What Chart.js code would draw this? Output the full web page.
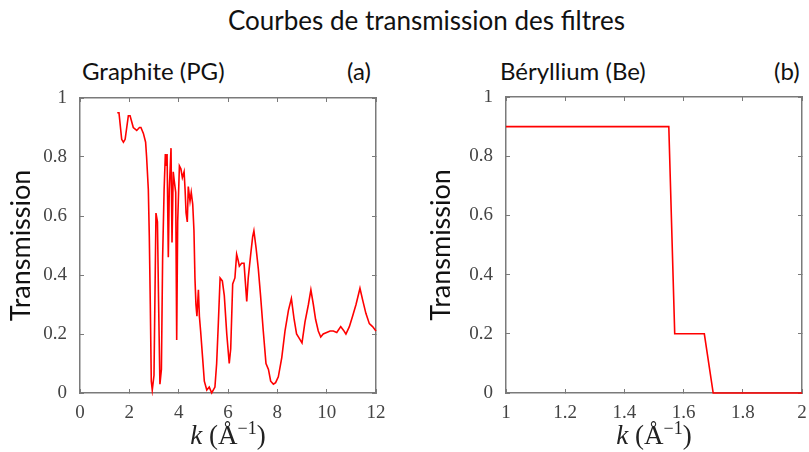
<!DOCTYPE html>
<html>
<head>
<meta charset="utf-8">
<script src="https://cdn.jsdelivr.net/npm/chart.js@4"></script>
<style>
  body { margin: 0; background: #fff; width: 809px; height: 452px; position: relative; overflow: hidden; }
  canvas { position: absolute; top: 90px; }
  .txt { position: absolute; font-family: Lato, "Open Sans", sans-serif; color: #111; white-space: nowrap; }
  .kt { position: absolute; width: 200px; text-align: center; font-family: "Liberation Serif", serif; font-size: 27px; color: #222; white-space: nowrap; }
  .kt sup { font-size: 18px; }
</style>
</head>
<body>
<div class="txt" style="left:228px; top:4px; font-size:26px;">Courbes de transmission des filtres</div>
<div class="txt" style="left:82px; top:56px; font-size:24px;">Graphite (PG)</div>
<div class="txt" style="left:347px; top:56px; font-size:24px;">(a)</div>
<div class="txt" style="left:500px; top:56px; font-size:24px;">Béryllium (Be)</div>
<div class="txt" style="left:774px; top:56px; font-size:24px;">(b)</div>
<canvas id="chartA" width="390" height="362" style="left:0px"></canvas>
<canvas id="chartB" width="389" height="362" style="left:420px"></canvas>
<div class="kt" style="left:128px; top:418px;"><i>k</i> (Å<sup>−1</sup>)</div>
<div class="kt" style="left:554px; top:418px;"><i>k</i> (Å<sup>−1</sup>)</div>
<script>
// Graphite (PG) transmission vs k
const graphiteK = [1.51, 1.58, 1.69, 1.76, 1.83, 1.96, 2.03, 2.16, 2.30, 2.41, 2.47, 2.57, 2.66, 2.70, 2.77,
  2.81, 2.85, 2.89, 2.93, 3.00, 3.08, 3.14, 3.18, 3.24, 3.30, 3.35, 3.41, 3.46, 3.49, 3.53, 3.58, 3.62,
  3.69, 3.73, 3.78, 3.82, 3.88, 3.92, 3.96, 4.03, 4.09, 4.15, 4.22, 4.26, 4.30, 4.35, 4.39, 4.46, 4.51,
  4.57, 4.62, 4.66, 4.70, 4.74, 4.80, 4.84, 4.89, 4.97, 5.04, 5.14, 5.24, 5.34, 5.47, 5.54, 5.61, 5.68,
  5.77, 5.85, 5.95, 6.05, 6.11, 6.19, 6.28, 6.35, 6.41, 6.46, 6.55, 6.65, 6.70, 6.76, 6.82, 6.92, 7.00,
  7.05, 7.14, 7.23, 7.32, 7.43, 7.54, 7.64, 7.73, 7.84, 7.93, 8.04, 8.18, 8.31, 8.45, 8.57, 8.68, 8.78,
  8.89, 9.00, 9.12, 9.26, 9.36, 9.46, 9.55, 9.66, 9.76, 9.86, 10.00, 10.14, 10.27, 10.41, 10.57, 10.68,
  10.78, 10.92, 11.05, 11.19, 11.35, 11.46, 11.59, 11.73, 11.86, 12.00];
const graphiteT = [0.95, 0.95, 0.86, 0.85, 0.86, 0.94, 0.94, 0.90, 0.89, 0.90, 0.90, 0.88, 0.85, 0.80, 0.69,
  0.53, 0.30, 0.04, 0.01, 0.06, 0.61, 0.58, 0.34, 0.03, 0.08, 0.46, 0.69, 0.81, 0.77, 0.81, 0.46, 0.69,
  0.83, 0.51, 0.75, 0.72, 0.68, 0.18, 0.58, 0.77, 0.76, 0.73, 0.75, 0.69, 0.61, 0.58, 0.70, 0.65, 0.68,
  0.64, 0.55, 0.39, 0.30, 0.26, 0.35, 0.26, 0.21, 0.12, 0.04, 0.01, 0.02, 0.00, 0.02, 0.10, 0.24, 0.39,
  0.38, 0.33, 0.20, 0.10, 0.15, 0.37, 0.39, 0.47, 0.45, 0.43, 0.44, 0.44, 0.38, 0.31, 0.39, 0.47, 0.53,
  0.55, 0.49, 0.42, 0.33, 0.21, 0.10, 0.08, 0.04, 0.03, 0.035, 0.055, 0.12, 0.21, 0.28, 0.32, 0.25, 0.20,
  0.185, 0.17, 0.24, 0.30, 0.35, 0.30, 0.25, 0.21, 0.19, 0.20, 0.205, 0.21, 0.21, 0.205, 0.225, 0.213,
  0.20, 0.225, 0.26, 0.30, 0.355, 0.315, 0.27, 0.235, 0.225, 0.21];

// Beryllium (Be)
const berylliumK = [1.00, 1.55, 1.57, 1.67, 1.70, 2.00];
const berylliumT = [0.90, 0.90, 0.20, 0.20, 0.00, 0.00];

const kRangeA = [0, 12];
const kRangeB = [1, 2];

const frameColor = "#7a7a7a";
const tickFont = { family: "Liberation Serif", size: 19 };
const plain = (v) => String(+Number(v).toFixed(1));

// MATLAB-like box: border on every side, short ticks pointing inward
function boxAxis(position, min, max, step, labelled, extra) {
  return Object.assign({
    type: "linear",
    position,
    min,
    max,
    grid: { display: true, drawOnChartArea: false, drawTicks: true, tickLength: -4, color: frameColor },
    border: { display: true, color: frameColor, width: 1.5 },
    ticks: labelled
      // padding includes the negative tick length
      ? { stepSize: step, font: tickFont, color: "#444", maxRotation: 0, callback: plain,
          padding: position === "bottom" ? 13 : 17 }
      : { stepSize: step, display: false },
  }, extra);
}

// fixed axis sizes, and no extra room for labels hanging past the plot
function fitX(h) {
  return (s) => { s.height = h; s.paddingLeft = 0; s.paddingRight = 0; };
}
function fitY(w) {
  return (s) => { s.width = w; s.paddingTop = 0; s.paddingBottom = 0; };
}

function makeOptions(range, step, yWidth, pad) {
  return {
    responsive: false,
    animation: false,
    layout: { padding: pad },
    plugins: { legend: { display: false }, tooltip: { enabled: false } },
    scales: {
      x: boxAxis("bottom", range[0], range[1], step, true, { afterFit: fitX(59) }),
      x2: boxAxis("top", range[0], range[1], step, false, { afterFit: fitX(0) }),
      y: boxAxis("left", 0, 1, 0.2, true, {
        title: {
          display: true,
          text: "Transmission",
          font: { family: "Lato", size: 27 },
          color: "#111",
          padding: { top: 5, bottom: 0 },
        },
        afterFit: fitY(yWidth),
      }),
      y2: boxAxis("right", 0, 1, 0.2, false, { afterFit: fitY(0) }),
    },
  };
}

function lineData(ks, ts) {
  return {
    datasets: [{
      data: ks.map((k, i) => ({ x: k, y: ts[i] })),
      borderColor: "#ff0000",
      borderWidth: 1.6,
      pointRadius: 0,
      tension: 0,
      fill: false,
      clip: 3,
    }],
  };
}

new Chart(document.getElementById("chartA"), {
  type: "line",
  data: lineData(graphiteK, graphiteT),
  options: makeOptions(kRangeA, 2, 80, { top: 8, right: 14, left: 0, bottom: 0 }),
});

new Chart(document.getElementById("chartB"), {
  type: "line",
  data: lineData(berylliumK, berylliumT),
  options: makeOptions(kRangeB, 0.2, 86, { top: 7, right: 7, left: 0, bottom: 0 }),
});
</script>
</body>
</html>
